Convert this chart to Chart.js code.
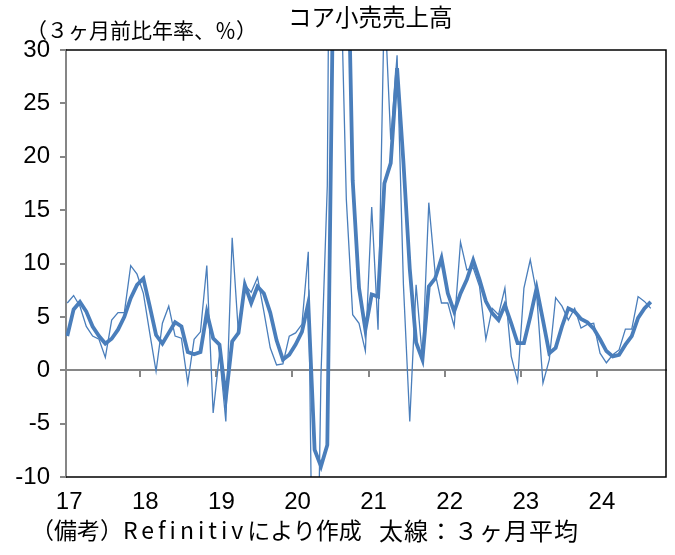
<!DOCTYPE html>
<html lang="ja">
<head>
<meta charset="UTF-8">
<title>コア小売売上高</title>
<script src="https://cdn.jsdelivr.net/npm/chart.js"></script>
<style>
    html, body { margin: 0; padding: 0; background: #ffffff; }
    #wrap { position: relative; width: 675px; height: 555px; }
    canvas { position: absolute; left: 0; top: 0; }
    .txt {
        position: absolute;
        font-family: "Noto Sans CJK JP", sans-serif;
        color: #000;
        white-space: nowrap;
        line-height: 1;
    }
    #title { left: 288px; top: 5px; font-size: 23.5px; }
    #unit { left: 26px; top: 19px; font-size: 21px; }
    #note1 { left: 31px; top: 518px; font-size: 23px; }
    #note2 { left: 379px; top: 518px; font-size: 24px; letter-spacing: 1px; }
    .lat { letter-spacing: 4px; }
</style>
</head>
<body>
<div id="wrap">
    <canvas id="chart" width="675" height="555"></canvas>
    <div class="txt" id="title">コア小売売上高</div>
    <div class="txt" id="unit">（３ヶ月前比年率、％）</div>
    <div class="txt" id="note1">（備考）<span class="lat">Refinitiv</span>により作成</div>
    <div class="txt" id="note2">太線：３ヶ月平均</div>
</div>

<script>
    // year labels, one per January (2017 - 2024)
    const yearLabels = ['17', '18', '19', '20', '21', '22', '23', '24'];

    // 3-month annualised change, monthly from Jan 2017 (thin line)
    const monthly = [
        6.3, 7.0, 6.0, 4.1, 3.2, 2.9, 1.2, 4.7, 5.4, 5.4,
        9.8, 9.0, 7.2, 3.5, -0.1, 4.4, 6.0, 3.2, 3.0, -1.2,
        2.9, 3.6, 9.8, -4.0, 1.5, -4.8, 12.4, 3.3, 8.0, 7.3,
        8.7, 5.5, 2.1, 0.5, 0.6, 3.2, 3.5, 4.3, 11.1, -37.8,
        -0.5, 17.3, 100, 40, 16, 5.2, 4.4, 1.8, 15.3, 3.8,
        35, 21.6, 29.5, 8, -4.8, 8.0, 1.1, 15.7, 9.1, 6.3,
        6.3, 4.1, 12.0, 9.4, 9.6, 7.85, 2.9, 5.8, 5.2, 7.7,
        1.3, -1.05, 7.7, 10.35, 7.2, -1.2, 1.0, 6.8, 6.0, 4.7,
        5.8, 3.95, 4.3, 4.4, 1.6, 0.7, 1.45, 1.9, 3.85, 3.85,
        6.9, 6.45, 5.8
    ];

    // 3-month average (thick line)
    const avg3 = [
        3.2, 5.7, 6.4, 5.5, 4.1, 3.2, 2.5, 2.95, 3.8, 5.0,
        6.75, 8.0, 8.6, 6.0, 3.3, 2.5, 3.5, 4.5, 4.1, 1.7,
        1.5, 1.7, 5.4, 3.0, 2.4, -2.6, 2.7, 3.5, 8.0, 6.3,
        7.85, 7.2, 5.4, 2.8, 1.0, 1.45, 2.4, 3.6, 6.3, -7.45,
        -9.0, -7.0, 40, 52, 47, 17.8, 7.7, 3.8, 7.1, 6.9,
        17.5, 19.4, 28.3, 19.5, 9.5, 2.6, 1.0, 7.85, 8.6, 10.5,
        7.2, 5.5, 7.2, 8.5, 10.3, 8.5, 6.45, 5.35, 4.7, 6.1,
        4.4, 2.55, 2.55, 5.0, 7.7, 4.7, 1.6, 2.1, 4.1, 5.8,
        5.5, 4.8, 4.5, 3.9, 2.9, 1.8, 1.3, 1.45, 2.4, 3.2,
        4.9, 5.8, 6.4
    ];

    const LINE = '#4a7ebb';
    const AXIS = '#868686';
    const TICK_FONT = { family: "'Liberation Sans', Arial, sans-serif", size: 24 };
    const X_MIN = -0.2, X_MAX = 94.4;

    const toPoints = arr => arr.map((v, i) => ({ x: i, y: v }));

    // black frame on top, right and bottom of the plot
    const frame = {
        id: 'frame',
        afterDraw(chart) {
            const { ctx, chartArea: a } = chart;
            ctx.save();
            ctx.strokeStyle = '#000';
            ctx.lineWidth = 1.5;
            ctx.beginPath();
            ctx.moveTo(a.left, a.top);
            ctx.lineTo(a.right, a.top);
            ctx.lineTo(a.right, a.bottom);
            ctx.lineTo(a.left, a.bottom);
            ctx.stroke();
            ctx.restore();
        }
    };

    new Chart(document.getElementById('chart'), {
        type: 'line',
        data: {
            datasets: [
                {
                    label: '3ヶ月前比年率',
                    data: toPoints(monthly),
                    borderColor: LINE,
                    borderWidth: 1.3,
                    pointRadius: 0,
                    tension: 0
                },
                {
                    label: '3ヶ月平均',
                    data: toPoints(avg3),
                    borderColor: LINE,
                    borderWidth: 3.8,
                    pointRadius: 0,
                    tension: 0
                }
            ]
        },
        options: {
            responsive: false,
            animation: false,
            layout: { padding: { top: 50, right: 9, bottom: 40, left: 0 } },
            plugins: {
                legend: { display: false },
                tooltip: { enabled: false }
            },
            scales: {
                x: {
                    type: 'linear',
                    min: X_MIN,
                    max: X_MAX,
                    position: 'bottom',
                    afterBuildTicks: s => {
                        s.ticks = yearLabels.map((_, k) => ({ value: 12 * k + 0.3 }));
                    },
                    ticks: {
                        autoSkip: false,
                        maxRotation: 0,
                        padding: 3,
                        color: '#000',
                        font: TICK_FONT,
                        callback: (v, i) => yearLabels[i]
                    },
                    grid: { display: false },
                    border: { display: false },
                    afterFit: s => { s.height = 38; }
                },
                x2: {
                    type: 'linear',
                    min: X_MIN,
                    max: X_MAX,
                    position: { y: 0 },
                    afterBuildTicks: s => {
                        s.ticks = yearLabels.slice(1).map((_, k) => ({ value: 12 * (k + 1) - 0.5 }));
                    },
                    ticks: { display: false },
                    grid: { drawOnChartArea: false, drawTicks: true, tickLength: 6, color: AXIS, lineWidth: 2 },
                    border: { color: AXIS, width: 2 }
                },
                y: {
                    min: -10,
                    max: 30,
                    ticks: {
                        stepSize: 5,
                        padding: 10,
                        color: '#000',
                        font: TICK_FONT
                    },
                    grid: { drawOnChartArea: false, tickLength: 6, color: AXIS, lineWidth: 2 },
                    border: { color: AXIS, width: 2 },
                    afterFit: s => { s.width = 66; }
                }
            }
        },
        plugins: [frame]
    });
</script>
</body>
</html>
